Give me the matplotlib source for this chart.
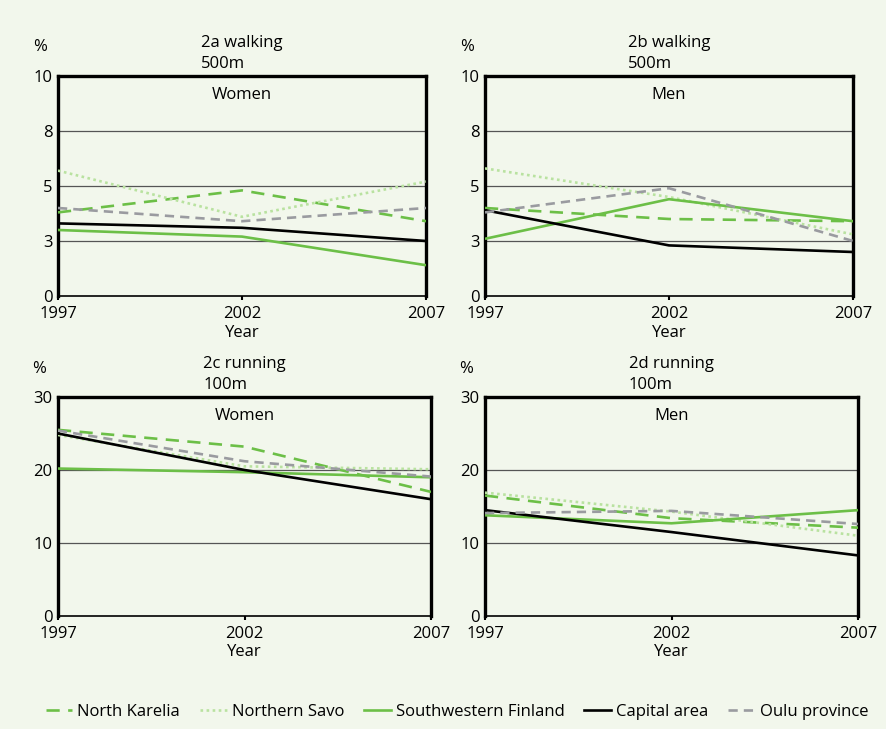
import matplotlib
matplotlib.use("Agg")
import matplotlib.pyplot as plt
from matplotlib.lines import Line2D

plt.rcParams['font.family'] = ['Open Sans', 'DejaVu Sans']

years = [1997, 2002, 2007]
series_names = ["North Karelia", "Northern Savo", "Southwestern Finland", "Capital area", "Oulu province"]

# Panel 2a walking 500m, women
walk_women_nk = [3.8, 4.8, 3.4]
walk_women_ns = [5.7, 3.6, 5.2]
walk_women_sw = [3.0, 2.7, 1.4]
walk_women_cap = [3.3, 3.1, 2.5]
walk_women_oulu = [4.0, 3.4, 4.0]

# Panel 2b walking 500m, men
walk_men_nk = [4.0, 3.5, 3.4]
walk_men_ns = [5.8, 4.5, 2.8]
walk_men_sw = [2.6, 4.4, 3.4]
walk_men_cap = [3.9, 2.3, 2.0]
walk_men_oulu = [3.8, 4.9, 2.5]

# Panel 2c running 100m, women
run_women_nk = [25.5, 23.2, 17.0]
run_women_ns = [24.8, 20.5, 20.1]
run_women_sw = [20.2, 19.7, 19.0]
run_women_cap = [25.0, 20.0, 16.0]
run_women_oulu = [25.4, 21.2, 19.1]

# Panel 2d running 100m, men
run_men_nk = [16.5, 13.4, 12.1]
run_men_ns = [16.9, 14.3, 11.0]
run_men_sw = [13.8, 12.7, 14.5]
run_men_cap = [14.5, 11.5, 8.3]
run_men_oulu = [14.1, 14.4, 12.6]

walk_ticks = [0, 2.5, 5, 7.5, 10]
walk_tick_labels = ["0", "3", "5", "8", "10"]
run_ticks = [0, 10, 20, 30]
run_tick_labels = ["0", "10", "20", "30"]

BG = "#f2f7ec"
GREEN = "#6cbf47"
LIGHT = "#b9e2a0"
GREY = "#9a9ba0"

styles = [
    dict(color=GREEN, lw=1.9, ls=(0, (5, 3.2))),
    dict(color=LIGHT, lw=1.9, ls=(0, (1, 1.3))),
    dict(color=GREEN, lw=1.9, ls='-'),
    dict(color='black', lw=1.9, ls='-'),
    dict(color=GREY, lw=1.9, ls=(0, (3.5, 2.3))),
]

fig = plt.figure(figsize=(8.87, 7.29), dpi=100)
fig.patch.set_facecolor(BG)

W, H = 887, 729
def pos(l, r, t, b):
    return [l / W, 1 - b / H, (r - l) / W, (b - t) / H]

panels = [
    (pos(58, 426, 76, 296), "2a walking\n500m", "Women",
     [walk_women_nk, walk_women_ns, walk_women_sw, walk_women_cap, walk_women_oulu],
     walk_ticks, walk_tick_labels, 10),
    (pos(485, 853, 76, 296), "2b walking\n500m", "Men",
     [walk_men_nk, walk_men_ns, walk_men_sw, walk_men_cap, walk_men_oulu],
     walk_ticks, walk_tick_labels, 10),
    (pos(58, 431, 397, 616), "2c running\n100m", "Women",
     [run_women_nk, run_women_ns, run_women_sw, run_women_cap, run_women_oulu],
     run_ticks, run_tick_labels, 30),
    (pos(485, 858, 397, 616), "2d running\n100m", "Men",
     [run_men_nk, run_men_ns, run_men_sw, run_men_cap, run_men_oulu],
     run_ticks, run_tick_labels, 30),
]

for rect, title, sex, data, ticks, tlabels, ymax in panels:
    ax = fig.add_axes(rect)
    ax.set_facecolor(BG)
    for t in ticks[1:-1]:
        ax.axhline(t, color='#555555', lw=0.9, zorder=1)
    for vals, st in zip(data, styles):
        ax.plot(years, vals, color=st['color'], lw=st['lw'], linestyle=st['ls'],
                zorder=3, solid_capstyle='butt')
    ax.set_xlim(1997, 2007)
    ax.set_ylim(0, ymax)
    ax.set_xticks(years)
    ax.set_xticklabels([str(y) for y in years], fontsize=12)
    ax.set_yticks(ticks)
    ax.set_yticklabels(tlabels, fontsize=12)
    ax.tick_params(axis='y', length=0, pad=4)
    ax.tick_params(axis='x', length=3, width=1.5, pad=4, direction='out')
    for s in ['top', 'left', 'right']:
        ax.spines[s].set_linewidth(2.4)
    ax.spines['bottom'].set_linewidth(1.2)
    ax.set_xlabel("Year", fontsize=12, labelpad=2)
    ax.set_title(title, fontsize=12, multialignment='left', linespacing=1.35, pad=6)
    ax.text(0.5, 0.915, sex, transform=ax.transAxes, ha='center', va='center', fontsize=12)
    ax.text(-0.05, 1.13, "%", transform=ax.transAxes, ha='center', va='center', fontsize=12)

handles = [Line2D([0], [0], color=st['color'], lw=st['lw'], linestyle=st['ls']) for st in styles]
fig.legend(handles, series_names, loc='center', bbox_to_anchor=(457 / W, 1 - 712 / H),
           ncol=5, frameon=False, fontsize=12, handlelength=1.6, handletextpad=0.3,
           columnspacing=1.2)

fig.savefig("out.png", dpi=100, facecolor=BG)
